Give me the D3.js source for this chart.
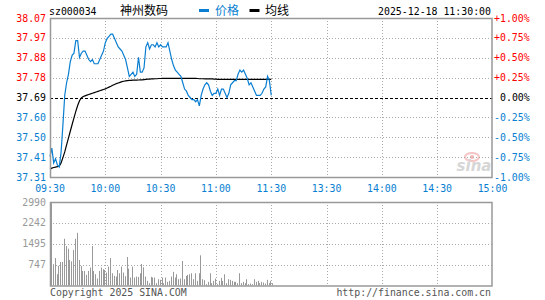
<!DOCTYPE html>
<html>
<head>
<meta charset="utf-8">
<script src="https://cdn.jsdelivr.net/npm/d3@7"></script>
<style>
  body { margin: 0; background: #fff; }
  svg { display: block; }
  text { font-family: "DejaVu Sans Mono", monospace; font-size: 9.9px; }
  .cn { font-family: "Noto Sans CJK SC", sans-serif; font-size: 12px; }
</style>
</head>
<body>
<svg id="chart" width="545" height="300"></svg>
<script>
let svg = d3.select('#chart');

// header info
let stockCode = 'sz000034';
let stockName = '神州数码';
let legendNames = ['价格', '均线'];
let dateTime = '2025-12-18 11:30:00';
let prevClose = 37.69;

// axis labels
let priceTickLabels = ['38.07', '37.97', '37.88', '37.78', '37.69', '37.60', '37.50', '37.41', '37.31'];
let pctTicks = [1, 0.75, 0.5, 0.25, 0, -0.25, -0.5, -0.75, -1];
let pctTickLabels = ['+1.00%', '+0.75%', '+0.50%', '+0.25%', '0.00%', '-0.25%', '-0.50%', '-0.75%', '-1.00%'];
let timeMinutes = [0, 30, 60, 90, 120, 150, 180, 210, 240];
let timeLabels = ['09:30', '10:00', '10:30', '11:00', '11:30', '13:30', '14:00', '14:30', '15:00'];
let volTicks = [2990, 2242, 1495, 747];

// minute prices 09:30 .. 11:30
let prices = [
  37.41, 37.45, 37.38, 37.40, 37.37, 37.36, 37.43, 37.56, 37.70, 37.76,
  37.80, 37.86, 37.89, 37.90, 37.96, 37.96, 37.88, 37.90, 37.91, 37.91,
  37.89, 37.87, 37.86, 37.87, 37.85, 37.85, 37.85, 37.87, 37.89, 37.91,
  37.95, 37.97, 37.98, 37.99, 37.99, 37.97, 37.95, 37.93, 37.92, 37.91,
  37.89, 37.87, 37.83, 37.79, 37.80, 37.81, 37.79, 37.80, 37.88, 37.81,
  37.81, 37.83, 37.93, 37.95, 37.92, 37.94, 37.94, 37.93, 37.95, 37.93,
  37.94, 37.93, 37.93, 37.93, 37.95, 37.91, 37.87, 37.84, 37.82, 37.81,
  37.80, 37.79, 37.76, 37.73, 37.72, 37.70, 37.69, 37.68, 37.68, 37.67,
  37.68, 37.65, 37.70, 37.73, 37.75, 37.76, 37.75, 37.72, 37.70, 37.71,
  37.71, 37.73, 37.70, 37.73, 37.73, 37.71, 37.69, 37.71, 37.75, 37.76,
  37.77, 37.77, 37.80, 37.82, 37.81, 37.82, 37.80, 37.78, 37.75, 37.76,
  37.74, 37.72, 37.70, 37.70, 37.70, 37.71, 37.73, 37.74, 37.79, 37.77,
  37.70
];

// average price line
let avgPrices = [
  37.350, 37.355, 37.358, 37.360, 37.362, 37.364, 37.380, 37.405, 37.432, 37.465,
  37.497, 37.530, 37.562, 37.593, 37.624, 37.652, 37.675, 37.688, 37.695, 37.698,
  37.701, 37.704, 37.707, 37.710, 37.713, 37.716, 37.719, 37.722, 37.725, 37.728,
  37.731, 37.735, 37.739, 37.743, 37.748, 37.752, 37.756, 37.759, 37.762, 37.765,
  37.767, 37.769, 37.770, 37.771, 37.771, 37.772, 37.772, 37.772, 37.773, 37.774,
  37.774, 37.775, 37.776, 37.777, 37.777, 37.778, 37.778, 37.779, 37.779, 37.780,
  37.780, 37.781, 37.781, 37.781, 37.781, 37.781, 37.781, 37.781, 37.781, 37.781,
  37.781, 37.781, 37.781, 37.781, 37.781, 37.781, 37.781, 37.781, 37.781, 37.781,
  37.780, 37.779, 37.779, 37.779, 37.778, 37.778, 37.778, 37.778, 37.778, 37.777,
  37.777, 37.776, 37.776, 37.776, 37.776, 37.776, 37.776, 37.776, 37.776, 37.776,
  37.776, 37.776, 37.776, 37.776, 37.776, 37.776, 37.776, 37.776, 37.776, 37.776,
  37.776, 37.776, 37.776, 37.776, 37.776, 37.776, 37.776, 37.776, 37.776, 37.776,
  37.776
];

// minute volumes
let volumes = [
  2990, 760, 985, 404, 700, 843, 843, 1674, 1413, 1318,
  914, 866, 1270, 1674, 1887, 914, 700, 522, 522, 380,
  522, 641, 1413, 522, 404, 249, 522, 641, 582, 558,
  463, 677, 985, 439, 344, 320, 558, 439, 677, 463,
  332, 1021, 605, 285, 677, 285, 320, 309, 439, 772,
  653, 320, 166, 83, 309, 285, 285, 83, 225, 202,
  285, 83, 285, 131, 166, 320, 487, 285, 404, 225,
  249, 878, 225, 344, 380, 404, 439, 225, 439, 166,
  439, 1080, 225, 190, 47, 131, 439, 83, 166, 249,
  47, 166, 273, 166, 404, 83, 225, 202, 166, 131,
  131, 83, 439, 83, 131, 83, 225, 47, 71, 47,
  225, 131, 166, 83, 131, 107, 71, 202, 83, 166,
  83
];

let left = 50, right = 492.5;
let pTop = 18, pBottom = 177;
let vTop = 202, vBottom = 285.5;
let red = '#ff0000', blue = '#0a7fd2', gray = '#999';

let x = d3.scaleLinear().domain([0, 240]).range([left, right]);
let yPrice = d3.scaleLinear().domain([prevClose * 0.99, prevClose * 1.01]).range([pBottom, pTop]);
let yPct = d3.scaleLinear().domain([-1, 1]).range([pBottom, pTop]);
let yVol = d3.scaleLinear().domain([0, 2990]).range([vBottom, vTop]);

svg.append('rect').attr('width', 545).attr('height', 300).attr('fill', '#fff');

function labelColor(p) {
  return p > 0 ? red : (p < 0 ? blue : '#000');
}

//Watermark
let wm = svg.append('g').attr('opacity', 0.6);
wm.append('ellipse').attr('cx', 472).attr('cy', 157).attr('rx', 7).attr('ry', 4)
  .attr('fill', 'none').attr('stroke', '#f3a0a0').attr('stroke-width', 2);
wm.append('circle').attr('cx', 472).attr('cy', 157).attr('r', 2).attr('fill', '#e88');
wm.append('text').attr('x', 474).attr('y', 171).attr('text-anchor', 'middle')
  .style('font-family', 'DejaVu Sans').style('font-size', '15px')
  .style('font-style', 'italic').style('font-weight', 'bold')
  .attr('fill', '#bbb').text('sina');

// horizontal grid in price panel
svg.selectAll('.hgrid')
  .data(pctTicks.filter(p => Math.abs(p) < 1))
  .join('line')
  .classed('hgrid', true)
  .attr('x1', left).attr('x2', right)
  .attr('y1', d => Math.round(yPct(d)) + 0.5)
  .attr('y2', d => Math.round(yPct(d)) + 0.5)
  .attr('stroke', d => d == 0 ? '#000' : '#aaa')
  .attr('stroke-dasharray', d => d == 0 ? '3,2' : '1,2');

// vertical grid (both panels)
let vMinutes = timeMinutes.slice(1, -1);
[[pTop, pBottom], [vTop, vBottom]].forEach((r, i) => {
  svg.selectAll('.vgrid' + i)
    .data(vMinutes)
    .join('line')
    .classed('vgrid' + i, true)
    .attr('x1', d => Math.round(x(d)) + 0.5).attr('x2', d => Math.round(x(d)) + 0.5)
    .attr('y1', r[0]).attr('y2', r[1])
    .attr('stroke', '#aaa').attr('stroke-dasharray', '1,2');
});

// volume grid
svg.selectAll('.volgrid')
  .data(volTicks.slice(1))
  .join('line')
  .classed('volgrid', true)
  .attr('x1', left).attr('x2', right)
  .attr('y1', d => Math.round(yVol(d)) + 0.5)
  .attr('y2', d => Math.round(yVol(d)) + 0.5)
  .attr('stroke', '#aaa').attr('stroke-dasharray', '1,2');

// volume bars
svg.selectAll('.vol')
  .data(volumes)
  .join('line')
  .classed('vol', true)
  .attr('x1', (d, i) => Math.round(x(i)) + 1.5)
  .attr('x2', (d, i) => Math.round(x(i)) + 1.5)
  .attr('y1', yVol(0))
  .attr('y2', d => yVol(d))
  .attr('stroke', gray).attr('stroke-width', 1);

// lines
let priceLine = d3.line().x((d, i) => x(i)).y(d => yPrice(d));
svg.append('path').datum(avgPrices).attr('d', priceLine)
  .attr('fill', 'none').attr('stroke', '#000').attr('stroke-width', 1.2);
svg.append('path').datum(prices).attr('d', priceLine)
  .attr('fill', 'none').attr('stroke', blue).attr('stroke-width', 1.2);

// panel boxes
svg.append('rect').attr('x', left + 0.5).attr('y', pTop + 0.5)
  .attr('width', right - left - 1).attr('height', pBottom - pTop)
  .attr('fill', 'none').attr('stroke', gray).attr('stroke-width', 1.5);
svg.append('rect').attr('x', left + 0.5).attr('y', vTop + 0.5)
  .attr('width', right - left - 1).attr('height', vBottom - vTop)
  .attr('fill', 'none').attr('stroke', gray).attr('stroke-width', 1.5);

// left price labels
svg.selectAll('.plabel')
  .data(priceTickLabels)
  .join('text')
  .classed('plabel', true)
  .attr('x', 46)
  .attr('y', (d, i) => yPct(pctTicks[i]) + 3.5)
  .attr('text-anchor', 'end')
  .attr('fill', (d, i) => labelColor(pctTicks[i]))
  .text(d => d);

// right pct labels
svg.selectAll('.pctlabel')
  .data(pctTickLabels)
  .join('text')
  .classed('pctlabel', true)
  .attr('x', (d, i) => pctTicks[i] == 0 ? 500 : 494)
  .attr('y', (d, i) => yPct(pctTicks[i]) + 3.5)
  .attr('fill', (d, i) => labelColor(pctTicks[i]))
  .text(d => d);

// time labels
svg.selectAll('.tlabel')
  .data(timeLabels)
  .join('text')
  .classed('tlabel', true)
  .attr('x', (d, i) => x(timeMinutes[i]))
  .attr('y', 191.5)
  .attr('text-anchor', 'middle')
  .attr('fill', blue)
  .text(d => d);

// volume labels
svg.selectAll('.vlabel')
  .data(volTicks)
  .join('text')
  .classed('vlabel', true)
  .attr('x', 46)
  .attr('y', d => yVol(d) + 3.5)
  .attr('text-anchor', 'end')
  .attr('fill', gray)
  .text(d => d);

// header
svg.append('text').attr('x', 49).attr('y', 15).attr('fill', '#000').text(stockCode);
svg.append('text').attr('x', 120).attr('y', 15).attr('class', 'cn').attr('fill', '#000').text(stockName);
svg.append('rect').attr('x', 199).attr('y', 9).attr('width', 10).attr('height', 3).attr('fill', blue);
svg.append('text').attr('x', 215).attr('y', 15).attr('class', 'cn').attr('fill', blue).text(legendNames[0]);
svg.append('rect').attr('x', 249.5).attr('y', 9).attr('width', 10).attr('height', 3).attr('fill', '#000');
svg.append('text').attr('x', 265).attr('y', 15).attr('class', 'cn').attr('fill', '#000').text(legendNames[1]);
svg.append('text').attr('x', 491).attr('y', 15).attr('text-anchor', 'end').attr('fill', '#000').text(dateTime);

// footer
svg.append('text').attr('x', 50).attr('y', 296).attr('fill', '#555').text('Copyright 2025 SINA.COM');
svg.append('text').attr('x', 491).attr('y', 296).attr('text-anchor', 'end').attr('fill', '#555').text('http://finance.sina.com.cn');
</script>
</body>
</html>
